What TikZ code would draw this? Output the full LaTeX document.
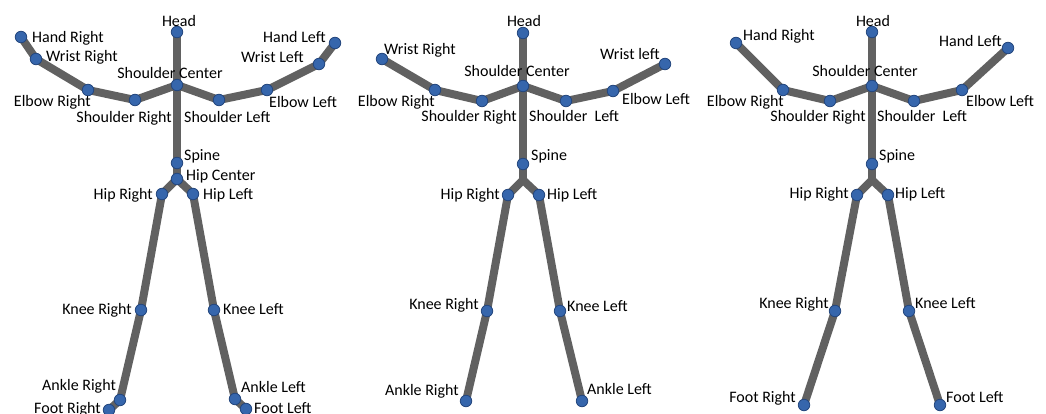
\documentclass[tikz,border=0pt]{standalone}
\usepackage{fontspec}
\setmainfont{Carlito}
\pgfdeclarelayer{bg}
\pgfsetlayers{bg,main}
\definecolor{bone}{HTML}{616161}
\definecolor{jointfill}{HTML}{3666AC}
\definecolor{jointdraw}{HTML}{24477E}
\tikzset{
  joint/.style={circle, fill=jointfill, draw=jointdraw, line width=0.8pt, minimum size=11.5pt, inner sep=0pt},
  bonepath/.style={draw=bone, line width=8pt, line cap=round, line join=round},
  lbl/.style={inner sep=0pt, yshift=-3pt, font=\fontsize{16}{19}\selectfont, text=black}
}
\begin{document}
\begin{tikzpicture}[x=1pt,y=-1pt]
\useasboundingbox (0,0) rectangle (1046,414);
% ---------- Figure 1 ----------
\node[joint] (a-head) at (177,32) {};
\node[joint] (a-hr) at (21,37) {};
\node[joint] (a-wr) at (36,59) {};
\node[joint] (a-er) at (88,90) {};
\node[joint] (a-sr) at (135,100) {};
\node[joint] (a-sc) at (177,85) {};
\node[joint] (a-sl) at (219,100) {};
\node[joint] (a-el) at (267,90) {};
\node[joint] (a-wl) at (319,64) {};
\node[joint] (a-hl) at (335,43) {};
\node[joint] (a-sp) at (177,163) {};
\node[joint] (a-hc) at (177,179) {};
\node[joint] (a-hipr) at (162,194) {};
\node[joint] (a-hipl) at (193,194) {};
\node[joint] (a-kr) at (141,310) {};
\node[joint] (a-kl) at (214,310) {};
\node[joint] (a-ar) at (120,400) {};
\node[joint] (a-fr) at (109,410) {};
\node[joint] (a-al) at (235,399) {};
\node[joint] (a-fl) at (246,409) {};
\begin{pgfonlayer}{bg}
\draw[bonepath] (a-hr.center) -- (a-wr.center) -- (a-er.center) -- (a-sr.center) -- (a-sc.center) -- (a-sl.center) -- (a-el.center) -- (a-wl.center) -- (a-hl.center);
\draw[bonepath] (a-head.center) -- (a-sc.center) -- (a-sp.center) -- (a-hc.center);
\draw[bonepath] (a-fr.center) -- (a-ar.center) -- (a-kr.center) -- (a-hipr.center) -- (a-hc.center) -- (a-hipl.center) -- (a-kl.center) -- (a-al.center) -- (a-fl.center);
\end{pgfonlayer}
\node[lbl, anchor=mid] (a-t-head) at (179,21) {Head};
\node[lbl, anchor=mid west] (a-t-hr) at (32,37) {Hand Right};
\node[lbl, anchor=mid west] (a-t-wr) at (46,56) {Wrist Right};
\node[lbl, anchor=mid] (a-t-sc) at (170,73) {Shoulder Center};
\node[lbl, anchor=mid east] (a-t-er) at (91,101) {Elbow Right};
\node[lbl, anchor=mid east] (a-t-sr) at (172,117) {Shoulder Right};
\node[lbl, anchor=mid west] (a-t-sl) at (184,117) {Shoulder Left};
\node[lbl, anchor=mid west] (a-t-el) at (269,102) {Elbow Left};
\node[lbl, anchor=mid west] (a-t-wl) at (241,57) {Wrist Left};
\node[lbl, anchor=mid west] (a-t-hl) at (263,37) {Hand Left};
\node[lbl, anchor=mid west] (a-t-sp) at (184,155) {Spine};
\node[lbl, anchor=mid west] (a-t-hc) at (186,175) {Hip Center};
\node[lbl, anchor=mid east] (a-t-hipr) at (153,194) {Hip Right};
\node[lbl, anchor=mid west] (a-t-hipl) at (203,194) {Hip Left};
\node[lbl, anchor=mid east] (a-t-kr) at (132,309) {Knee Right};
\node[lbl, anchor=mid west] (a-t-kl) at (223,309) {Knee Left};
\node[lbl, anchor=mid west] (a-t-ar) at (42,385) {Ankle Right};
\node[lbl, anchor=mid west] (a-t-al) at (241,387) {Ankle Left};
\node[lbl, anchor=mid west] (a-t-fr) at (34,408) {Foot Right};
\node[lbl, anchor=mid west] (a-t-fl) at (254,408) {Foot Left};
% ---------- Figure 2 ----------
\node[joint] (b-head) at (523,33) {};
\node[joint] (b-wr) at (382,59) {};
\node[joint] (b-er) at (435,90) {};
\node[joint] (b-sr) at (482,101) {};
\node[joint] (b-sc) at (523,86) {};
\node[joint] (b-sl) at (566,101) {};
\node[joint] (b-el) at (613,91) {};
\node[joint] (b-wl) at (665,64) {};
\node[joint] (b-sp) at (523,164) {};
\coordinate (b-hc) at (523,180);
\node[joint] (b-hipr) at (508,195) {};
\node[joint] (b-hipl) at (539,195) {};
\node[joint] (b-kr) at (487,311) {};
\node[joint] (b-kl) at (560,311) {};
\node[joint] (b-ar) at (466,401) {};
\node[joint] (b-al) at (582,401) {};
\begin{pgfonlayer}{bg}
\draw[bonepath] (b-wr.center) -- (b-er.center) -- (b-sr.center) -- (b-sc.center) -- (b-sl.center) -- (b-el.center) -- (b-wl.center);
\draw[bonepath] (b-head.center) -- (b-sc.center) -- (b-sp.center) -- (b-hc);
\draw[bonepath] (b-ar.center) -- (b-kr.center) -- (b-hipr.center) -- (b-hc) -- (b-hipl.center) -- (b-kl.center) -- (b-al.center);
\end{pgfonlayer}
\node[lbl, anchor=mid] (b-t-head) at (524,21) {Head};
\node[lbl, anchor=mid west] (b-t-wr) at (384,49) {Wrist Right};
\node[lbl, anchor=mid west] (b-t-wl) at (600,54) {Wrist left};
\node[lbl, anchor=mid] (b-t-sc) at (517,71) {Shoulder Center};
\node[lbl, anchor=mid east] (b-t-er) at (435,101) {Elbow Right};
\node[lbl, anchor=mid east] (b-t-sr) at (517,116) {Shoulder Right};
\node[lbl, anchor=mid west] (b-t-sl) at (529,116) {Shoulder\ \ Left};
\node[lbl, anchor=mid west] (b-t-el) at (622,99) {Elbow Left};
\node[lbl, anchor=mid west] (b-t-sp) at (531,155) {Spine};
\node[lbl, anchor=mid east] (b-t-hipr) at (500,194) {Hip Right};
\node[lbl, anchor=mid west] (b-t-hipl) at (547,194) {Hip Left};
\node[lbl, anchor=mid east] (b-t-kr) at (479,304) {Knee Right};
\node[lbl, anchor=mid west] (b-t-kl) at (567,306) {Knee Left};
\node[lbl, anchor=mid east] (b-t-ar) at (459,390) {Ankle Right};
\node[lbl, anchor=mid west] (b-t-al) at (587,389) {Ankle Left};
% ---------- Figure 3 ----------
\node[joint] (c-head) at (872,32) {};
\node[joint] (c-hr) at (736,43) {};
\node[joint] (c-er) at (783,90) {};
\node[joint] (c-sr) at (830,101) {};
\node[joint] (c-sc) at (872,86) {};
\node[joint] (c-sl) at (914,101) {};
\node[joint] (c-el) at (962,90) {};
\node[joint] (c-hl) at (1008,48) {};
\node[joint] (c-sp) at (872,164) {};
\coordinate (c-hc) at (872,180);
\node[joint] (c-hipr) at (857,195) {};
\node[joint] (c-hipl) at (888,195) {};
\node[joint] (c-kr) at (835,311) {};
\node[joint] (c-kl) at (909,311) {};
\node[joint] (c-fr) at (804,405) {};
\node[joint] (c-fl) at (940,405) {};
\begin{pgfonlayer}{bg}
\draw[bonepath] (c-hr.center) -- (c-er.center) -- (c-sr.center) -- (c-sc.center) -- (c-sl.center) -- (c-el.center) -- (c-hl.center);
\draw[bonepath] (c-head.center) -- (c-sc.center) -- (c-sp.center) -- (c-hc);
\draw[bonepath] (c-fr.center) -- (c-kr.center) -- (c-hipr.center) -- (c-hc) -- (c-hipl.center) -- (c-kl.center) -- (c-fl.center);
\end{pgfonlayer}
\node[lbl, anchor=mid] (c-t-head) at (873,21) {Head};
\node[lbl, anchor=mid west] (c-t-hr) at (743,35) {Hand Right};
\node[lbl, anchor=mid west] (c-t-hl) at (939,41) {Hand Left};
\node[lbl, anchor=mid] (c-t-sc) at (865,71) {Shoulder Center};
\node[lbl, anchor=mid east] (c-t-er) at (784,101) {Elbow Right};
\node[lbl, anchor=mid east] (c-t-sr) at (866,116) {Shoulder Right};
\node[lbl, anchor=mid west] (c-t-sl) at (877,116) {Shoulder\ \ Left};
\node[lbl, anchor=mid west] (c-t-el) at (966,101) {Elbow Left};
\node[lbl, anchor=mid west] (c-t-sp) at (879,155) {Spine};
\node[lbl, anchor=mid east] (c-t-hipr) at (849,193) {Hip Right};
\node[lbl, anchor=mid west] (c-t-hipl) at (895,193) {Hip Left};
\node[lbl, anchor=mid east] (c-t-kr) at (829,303) {Knee Right};
\node[lbl, anchor=mid west] (c-t-kl) at (915,303) {Knee Left};
\node[lbl, anchor=mid east] (c-t-fr) at (796,397) {Foot Right};
\node[lbl, anchor=mid west] (c-t-fl) at (946,397) {Foot Left};
\end{tikzpicture}
\end{document}
